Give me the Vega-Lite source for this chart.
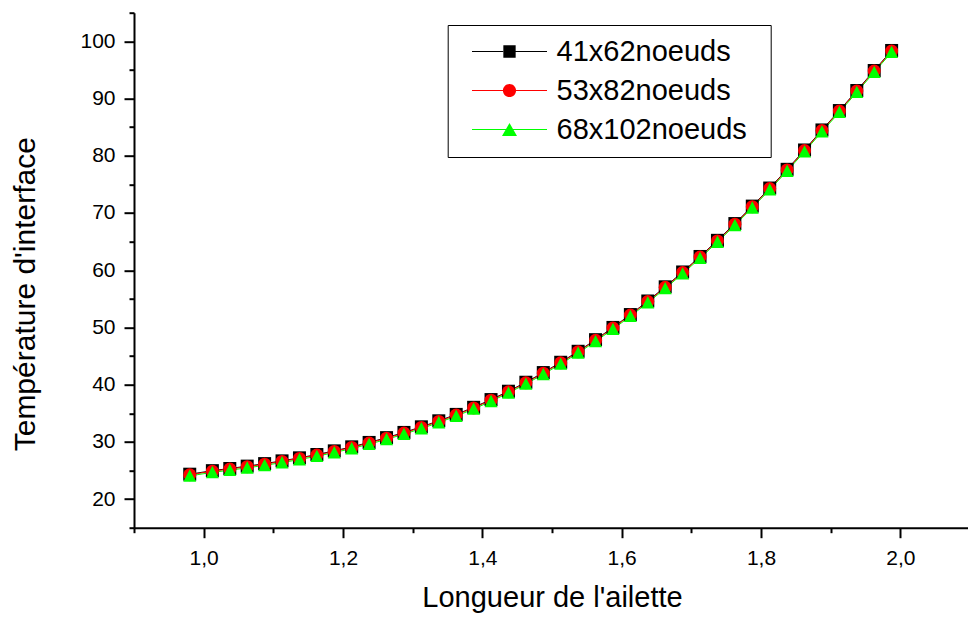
{
"$schema": "https://vega.github.io/schema/vega-lite/v6.json",
"width": 836, "height": 515,
"autosize": {"type": "none"},
"padding": {"left": 134, "top": 12.7, "right": 0, "bottom": 91.3},
"background": "white",
"config": {"font": "Liberation Sans", "view": {"stroke": null}},
"data": {"values": [
{"x":0.98,"T":24.35,"s":"41x62noeuds"},{"x":1.0125,"T":24.97,"s":"41x62noeuds"},{"x":1.0375,"T":25.35,"s":"41x62noeuds"},{"x":1.0625,"T":25.76,"s":"41x62noeuds"},{"x":1.0875,"T":26.2,"s":"41x62noeuds"},{"x":1.1125,"T":26.68,"s":"41x62noeuds"},{"x":1.1375,"T":27.21,"s":"41x62noeuds"},{"x":1.1625,"T":27.79,"s":"41x62noeuds"},{"x":1.1875,"T":28.43,"s":"41x62noeuds"},{"x":1.2125,"T":29.13,"s":"41x62noeuds"},{"x":1.2375,"T":29.9,"s":"41x62noeuds"},{"x":1.2625,"T":30.74,"s":"41x62noeuds"},{"x":1.2875,"T":31.65,"s":"41x62noeuds"},{"x":1.3125,"T":32.63,"s":"41x62noeuds"},{"x":1.3375,"T":33.68,"s":"41x62noeuds"},{"x":1.3625,"T":34.8,"s":"41x62noeuds"},{"x":1.3875,"T":36.04,"s":"41x62noeuds"},{"x":1.4125,"T":37.39,"s":"41x62noeuds"},{"x":1.4375,"T":38.85,"s":"41x62noeuds"},{"x":1.4625,"T":40.42,"s":"41x62noeuds"},{"x":1.4875,"T":42.11,"s":"41x62noeuds"},{"x":1.5125,"T":43.91,"s":"41x62noeuds"},{"x":1.5375,"T":45.83,"s":"41x62noeuds"},{"x":1.5625,"T":47.86,"s":"41x62noeuds"},{"x":1.5875,"T":50.0,"s":"41x62noeuds"},{"x":1.6125,"T":52.25,"s":"41x62noeuds"},{"x":1.6375,"T":54.62,"s":"41x62noeuds"},{"x":1.6625,"T":57.1,"s":"41x62noeuds"},{"x":1.6875,"T":59.69,"s":"41x62noeuds"},{"x":1.7125,"T":62.4,"s":"41x62noeuds"},{"x":1.7375,"T":65.22,"s":"41x62noeuds"},{"x":1.7625,"T":68.15,"s":"41x62noeuds"},{"x":1.7875,"T":71.2,"s":"41x62noeuds"},{"x":1.8125,"T":74.36,"s":"41x62noeuds"},{"x":1.8375,"T":77.63,"s":"41x62noeuds"},{"x":1.8625,"T":81.01,"s":"41x62noeuds"},{"x":1.8875,"T":84.51,"s":"41x62noeuds"},{"x":1.9125,"T":87.9,"s":"41x62noeuds"},{"x":1.9375,"T":91.4,"s":"41x62noeuds"},{"x":1.9625,"T":94.9,"s":"41x62noeuds"},{"x":1.9875,"T":98.4,"s":"41x62noeuds"},
{"x":0.98,"T":24.25,"s":"53x82noeuds"},{"x":1.0125,"T":24.87,"s":"53x82noeuds"},{"x":1.0375,"T":25.25,"s":"53x82noeuds"},{"x":1.0625,"T":25.66,"s":"53x82noeuds"},{"x":1.0875,"T":26.1,"s":"53x82noeuds"},{"x":1.1125,"T":26.58,"s":"53x82noeuds"},{"x":1.1375,"T":27.11,"s":"53x82noeuds"},{"x":1.1625,"T":27.69,"s":"53x82noeuds"},{"x":1.1875,"T":28.33,"s":"53x82noeuds"},{"x":1.2125,"T":29.03,"s":"53x82noeuds"},{"x":1.2375,"T":29.8,"s":"53x82noeuds"},{"x":1.2625,"T":30.64,"s":"53x82noeuds"},{"x":1.2875,"T":31.55,"s":"53x82noeuds"},{"x":1.3125,"T":32.53,"s":"53x82noeuds"},{"x":1.3375,"T":33.58,"s":"53x82noeuds"},{"x":1.3625,"T":34.7,"s":"53x82noeuds"},{"x":1.3875,"T":35.94,"s":"53x82noeuds"},{"x":1.4125,"T":37.29,"s":"53x82noeuds"},{"x":1.4375,"T":38.75,"s":"53x82noeuds"},{"x":1.4625,"T":40.32,"s":"53x82noeuds"},{"x":1.4875,"T":42.01,"s":"53x82noeuds"},{"x":1.5125,"T":43.81,"s":"53x82noeuds"},{"x":1.5375,"T":45.73,"s":"53x82noeuds"},{"x":1.5625,"T":47.76,"s":"53x82noeuds"},{"x":1.5875,"T":49.9,"s":"53x82noeuds"},{"x":1.6125,"T":52.15,"s":"53x82noeuds"},{"x":1.6375,"T":54.52,"s":"53x82noeuds"},{"x":1.6625,"T":57.0,"s":"53x82noeuds"},{"x":1.6875,"T":59.59,"s":"53x82noeuds"},{"x":1.7125,"T":62.3,"s":"53x82noeuds"},{"x":1.7375,"T":65.12,"s":"53x82noeuds"},{"x":1.7625,"T":68.05,"s":"53x82noeuds"},{"x":1.7875,"T":71.1,"s":"53x82noeuds"},{"x":1.8125,"T":74.26,"s":"53x82noeuds"},{"x":1.8375,"T":77.53,"s":"53x82noeuds"},{"x":1.8625,"T":80.91,"s":"53x82noeuds"},{"x":1.8875,"T":84.41,"s":"53x82noeuds"},{"x":1.9125,"T":87.8,"s":"53x82noeuds"},{"x":1.9375,"T":91.3,"s":"53x82noeuds"},{"x":1.9625,"T":94.8,"s":"53x82noeuds"},{"x":1.9875,"T":98.3,"s":"53x82noeuds"},
{"x":0.98,"T":24.05,"s":"68x102noeuds"},{"x":1.0125,"T":24.67,"s":"68x102noeuds"},{"x":1.0375,"T":25.05,"s":"68x102noeuds"},{"x":1.0625,"T":25.46,"s":"68x102noeuds"},{"x":1.0875,"T":25.9,"s":"68x102noeuds"},{"x":1.1125,"T":26.38,"s":"68x102noeuds"},{"x":1.1375,"T":26.91,"s":"68x102noeuds"},{"x":1.1625,"T":27.49,"s":"68x102noeuds"},{"x":1.1875,"T":28.13,"s":"68x102noeuds"},{"x":1.2125,"T":28.83,"s":"68x102noeuds"},{"x":1.2375,"T":29.6,"s":"68x102noeuds"},{"x":1.2625,"T":30.44,"s":"68x102noeuds"},{"x":1.2875,"T":31.35,"s":"68x102noeuds"},{"x":1.3125,"T":32.33,"s":"68x102noeuds"},{"x":1.3375,"T":33.38,"s":"68x102noeuds"},{"x":1.3625,"T":34.5,"s":"68x102noeuds"},{"x":1.3875,"T":35.74,"s":"68x102noeuds"},{"x":1.4125,"T":37.09,"s":"68x102noeuds"},{"x":1.4375,"T":38.55,"s":"68x102noeuds"},{"x":1.4625,"T":40.12,"s":"68x102noeuds"},{"x":1.4875,"T":41.81,"s":"68x102noeuds"},{"x":1.5125,"T":43.61,"s":"68x102noeuds"},{"x":1.5375,"T":45.53,"s":"68x102noeuds"},{"x":1.5625,"T":47.56,"s":"68x102noeuds"},{"x":1.5875,"T":49.7,"s":"68x102noeuds"},{"x":1.6125,"T":51.95,"s":"68x102noeuds"},{"x":1.6375,"T":54.32,"s":"68x102noeuds"},{"x":1.6625,"T":56.8,"s":"68x102noeuds"},{"x":1.6875,"T":59.39,"s":"68x102noeuds"},{"x":1.7125,"T":62.1,"s":"68x102noeuds"},{"x":1.7375,"T":64.92,"s":"68x102noeuds"},{"x":1.7625,"T":67.85,"s":"68x102noeuds"},{"x":1.7875,"T":70.9,"s":"68x102noeuds"},{"x":1.8125,"T":74.06,"s":"68x102noeuds"},{"x":1.8375,"T":77.33,"s":"68x102noeuds"},{"x":1.8625,"T":80.71,"s":"68x102noeuds"},{"x":1.8875,"T":84.21,"s":"68x102noeuds"},{"x":1.9125,"T":87.6,"s":"68x102noeuds"},{"x":1.9375,"T":91.1,"s":"68x102noeuds"},{"x":1.9625,"T":94.6,"s":"68x102noeuds"},{"x":1.9875,"T":98.1,"s":"68x102noeuds"}
]},
"layer": [
{"mark": {"type": "line", "strokeWidth": 1},
 "encoding": {
  "x": {"field": "x", "type": "quantitative", "scale": {"domain": [0.9, 2.1], "nice": false, "zero": false},
   "axis": {"orient": "bottom", "values": [1.0, 1.2, 1.4, 1.6, 1.8, 2.0], "labelExpr": "replace(format(datum.value, '.1f'), '.', ',')", "grid": false, "tickSize": 10, "tickWidth": 2, "tickColor": "black", "domainWidth": 2, "domainColor": "black", "labelFontSize": 21, "labelColor": "black", "labelPadding": 10, "labelFlush": false, "labelOverlap": false, "title": "Longueur de l'ailette", "titleFontSize": 29, "titleFontWeight": "normal", "titleColor": "black", "titleBaseline": "alphabetic", "titleY": 79}},
  "y": {"field": "T", "type": "quantitative", "scale": {"domain": [15, 105], "nice": false, "zero": false},
   "axis": {"orient": "left", "values": [20, 30, 40, 50, 60, 70, 80, 90, 100], "grid": false, "tickSize": 10, "tickWidth": 2, "tickColor": "black", "domainWidth": 2, "domainColor": "black", "labelFontSize": 21, "labelColor": "black", "labelPadding": 9, "labelFlush": false, "labelOverlap": false, "title": "Température d'interface", "titleFontSize": 30, "titleFontWeight": "normal", "titleColor": "black", "titleBaseline": "alphabetic", "titleAngle": -90, "titleAlign": "center", "titleX": -100, "titleY": 281}},
  "color": {"field": "s", "type": "nominal", "scale": {"domain": ["41x62noeuds", "53x82noeuds", "68x102noeuds"], "range": ["#000000", "#ff0000", "#00ff00"]}, "legend": null}
 }},
{"mark": {"type": "point", "filled": true, "opacity": 1, "strokeWidth": 0},
 "encoding": {
  "x": {"field": "x", "type": "quantitative", "axis": {"orient": "bottom", "values": [0.9, 1.1, 1.3, 1.5, 1.7, 1.9, 2.1], "labels": false, "domain": false, "grid": false, "tickSize": 5, "tickWidth": 2, "tickColor": "black", "title": null}},
  "y": {"field": "T", "type": "quantitative", "axis": {"orient": "left", "values": [15, 25, 35, 45, 55, 65, 75, 85, 95, 105], "labels": false, "domain": false, "grid": false, "tickSize": 5, "tickWidth": 2, "tickColor": "black", "title": null}},
  "color": {"field": "s", "type": "nominal", "scale": {"domain": ["41x62noeuds", "53x82noeuds", "68x102noeuds"], "range": ["#000000", "#ff0000", "#00ff00"]}, "legend": null},
  "shape": {"field": "s", "type": "nominal", "scale": {"domain": ["41x62noeuds", "53x82noeuds", "68x102noeuds"], "range": ["square", "circle", "M0,-1L1,0.9H-1Z"]}, "legend": null},
  "size": {"field": "s", "type": "nominal", "scale": {"domain": ["41x62noeuds", "53x82noeuds", "68x102noeuds"], "range": [169, 169, 190]}, "legend": null}
 }},
{"mark": {"type": "point", "filled": true, "opacity": 0},
 "encoding": {
  "color": {"field": "s", "type": "nominal", "scale": {"domain": ["41x62noeuds", "53x82noeuds", "68x102noeuds"], "range": ["#000000", "#ff0000", "#00ff00"]},
   "legend": {"orient": "none", "direction": "vertical", "legendX": 313.7, "legendY": 12.3, "title": " ", "titleOrient": "right", "titlePadding": 12, "titleFontSize": 4, "padding": 12, "rowPadding": 9, "symbolSize": 784, "symbolOffset": 35.3, "labelOffset": 32.5, "labelFontSize": 29, "labelColor": "black", "labelLimit": 400, "strokeColor": "black", "fillColor": "white", "symbolOpacity": 1, "symbolStrokeWidth": 0}},
  "shape": {"field": "s", "type": "nominal", "scale": {"domain": ["41x62noeuds", "53x82noeuds", "68x102noeuds"], "range": [
    "M-2.68,-0.036H-0.44V0.036H-2.68Z M0.44,-0.036H2.68V0.036H0.44Z M-0.44,-0.44H0.44V0.44H-0.44Z",
    "M-2.68,-0.036H-0.46V0.036H-2.68Z M0.46,-0.036H2.68V0.036H0.46Z M-0.47,0A0.47,0.47,0,1,1,0.47,0A0.47,0.47,0,1,1,-0.47,0Z",
    "M-2.68,-0.036H-0.26V0.036H-2.68Z M0.26,-0.036H2.68V0.036H0.26Z M0,-0.464L0.536,0.464H-0.536Z"]},
   "legend": {"orient": "none", "direction": "vertical", "legendX": 313.7, "legendY": 12.3, "title": " ", "titleOrient": "right", "titlePadding": 12, "titleFontSize": 4, "padding": 12, "rowPadding": 9, "symbolSize": 784, "symbolOffset": 35.3, "labelOffset": 32.5, "labelFontSize": 29, "labelColor": "black", "labelLimit": 400, "strokeColor": "black", "fillColor": "white", "symbolOpacity": 1, "symbolStrokeWidth": 0}}
 }}
],
"resolve": {"scale": {"shape": "independent", "color": "independent", "size": "independent"}, "axis": {"x": "independent", "y": "independent"}}
}
